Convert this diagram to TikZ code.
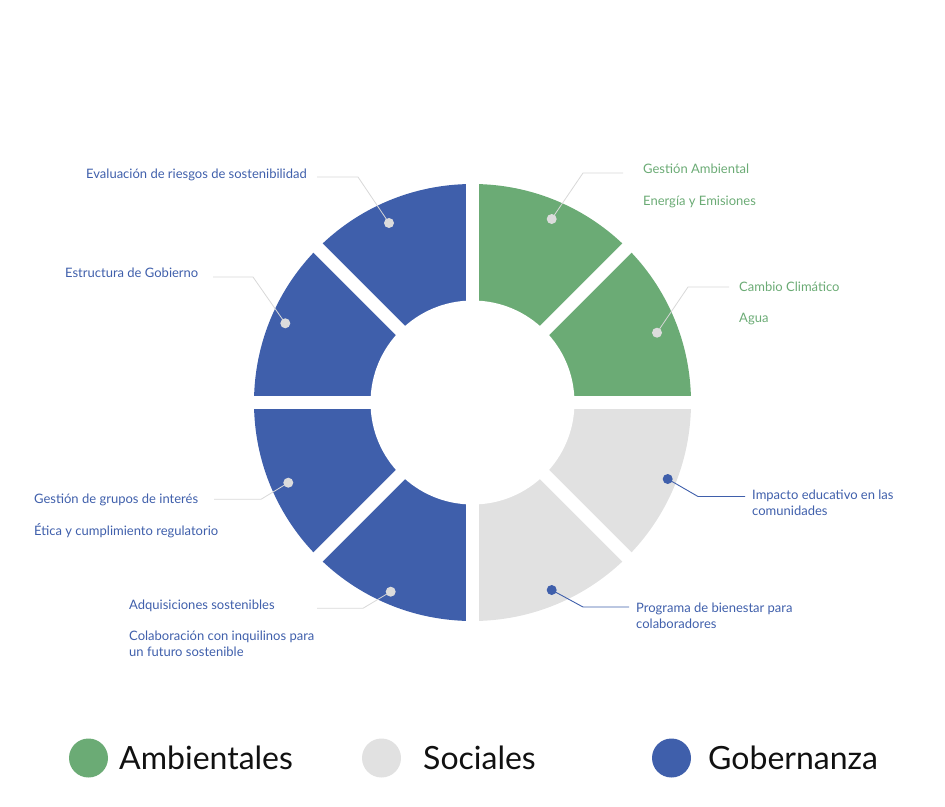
\documentclass[tikz,border=0pt]{standalone}
\usepackage{fontspec}
\setmainfont{Lato}
\usetikzlibrary{calc}
\definecolor{cgreen}{HTML}{6BAB75}
\definecolor{cblue}{HTML}{3F5FAB}
\definecolor{cgray}{HTML}{E1E1E1}
\definecolor{lgray}{HTML}{D8D8D8}
\definecolor{dgray}{HTML}{DCDCDC}
\definecolor{ltext}{HTML}{111111}
\begin{document}
\begin{tikzpicture}[x=1pt,y=-1pt,
  lab/.style={anchor=base west,inner sep=0pt,font=\fontsize{13}{16}\selectfont,align=left},
  glab/.style={lab,text=cgreen},
  blab/.style={lab,text=cblue},
  gdot/.style={circle,fill=dgray,minimum size=10pt,inner sep=0pt},
  bdot/.style={circle,fill=cblue,minimum size=10pt,inner sep=0pt},
  gline/.style={draw=lgray,line width=0.8pt},
  bline/.style={draw=cblue,line width=0.9pt},
  gap/.style={draw=white,line width=13pt},
  legdot/.style={circle,minimum size=39pt,inner sep=0pt},
  legtxt/.style={anchor=base west,inner sep=0pt,font=\fontsize{32}{38}\selectfont,text=ltext}]
\useasboundingbox (0,0) rectangle (945,806);
\coordinate (c) at (472.5,402.5);
% ring quadrants
\fill[cgreen] (c) -- ++(-90:218.5) arc[start angle=-90,end angle=0,radius=218.5] -- cycle;
\fill[cgray] (c) -- ++(0:218.5) arc[start angle=0,end angle=90,radius=218.5] -- cycle;
\fill[cblue] (c) -- ++(90:218.5) arc[start angle=90,end angle=270,radius=218.5] -- cycle;
% gaps
\foreach \a in {0,45,90,135}{
  \draw[gap] ($(c)+(\a:230)$) -- ($(c)+(\a+180:230)$);
}
\fill[white] (c) circle[radius=102];
% labels
\node[blab] (t1) at (86,178.5) {Evaluación de riesgos de sostenibilidad};
\node[blab] (t2) at (65,277) {Estructura de Gobierno};
\node[glab] (t3) at (643,173) {Gestión Ambiental};
\node[glab] (t4) at (643,205) {Energía y Emisiones};
\node[glab] (t5) at (739,291) {Cambio Climático};
\node[glab] (t6) at (739,322) {Agua};
\node[blab] (t7) at (34,503) {Gestión de grupos de interés};
\node[blab] (t8) at (34,535) {Ética y cumplimiento regulatorio};
\node[blab] (t9) at (129,609) {Adquisiciones sostenibles};
\node[blab] (t10) at (129,656) {Colaboración con inquilinos para\\un futuro sostenible};
\node[blab] (t11) at (752,515) {Impacto educativo en las\\comunidades};
\node[blab] (t12) at (636,628) {Programa de bienestar para\\colaboradores};
% connector points
\coordinate (e1) at (317,177); \coordinate (k1) at (358,177);
\coordinate (e2) at (213,277); \coordinate (k2) at (253,277);
\coordinate (e3) at (623,173); \coordinate (k3) at (583,173);
\coordinate (e5) at (729,287); \coordinate (k5) at (688,287);
\coordinate (e7) at (214,499.3); \coordinate (k7) at (261,499.3);
\coordinate (e9) at (317,608.3); \coordinate (k9) at (363,608.3);
\coordinate (e11) at (745,496.5); \coordinate (k11) at (698,496.5);
\coordinate (e12) at (629,607); \coordinate (k12) at (583,607);
% dots positions
\coordinate (p1) at (389,223);
\coordinate (p2) at (285.3,323.3);
\coordinate (p3) at (551.7,219);
\coordinate (p5) at (657,332.7);
\coordinate (p7) at (288.3,482.7);
\coordinate (p9) at (390.7,591.7);
\coordinate (p11) at (667.7,479);
\coordinate (p12) at (551.7,590);
\draw[gline] (e1) -- (k1) -- (p1);
\draw[gline] (e2) -- (k2) -- (p2);
\draw[gline] (e3) -- (k3) -- (p3);
\draw[gline] (e5) -- (k5) -- (p5);
\draw[gline] (e7) -- (k7) -- (p7);
\draw[gline] (e9) -- (k9) -- (p9);
\draw[bline] (e11) -- (k11) -- (p11);
\draw[bline] (e12) -- (k12) -- (p12);
\node[gdot] (d1) at (p1) {};
\node[gdot] (d2) at (p2) {};
\node[gdot] (d3) at (p3) {};
\node[gdot] (d5) at (p5) {};
\node[gdot] (d7) at (p7) {};
\node[gdot] (d9) at (p9) {};
\node[bdot] (d11) at (p11) {};
\node[bdot] (d12) at (p12) {};
% legend
\node[legdot,fill=cgreen] (l1) at (88.5,758) {};
\node[legdot,fill=cgray] (l2) at (381.5,758) {};
\node[legdot,fill=cblue] (l3) at (671.5,758) {};
\node[legtxt] (lt1) at (119,769) {Ambientales};
\node[legtxt] (lt2) at (423,769) {Sociales};
\node[legtxt] (lt3) at (708,769) {Gobernanza};
\end{tikzpicture}
\end{document}
